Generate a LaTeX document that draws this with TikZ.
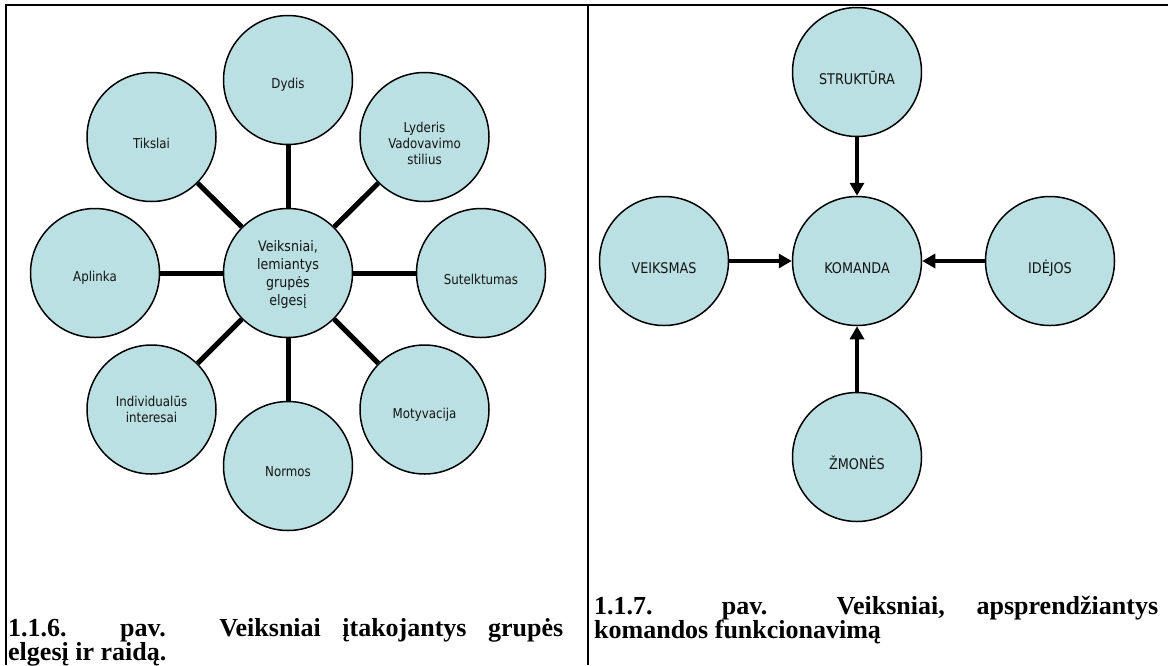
\documentclass[tikz,border=0pt]{standalone}
\usepackage{fontspec}
\setmainfont{Liberation Serif}
\newfontfamily\discfont[FakeStretch=0.87]{DejaVu Sans}
\usetikzlibrary{arrows.meta}
\definecolor{discfill}{RGB}{187,224,227}
\definecolor{disctext}{RGB}{20,20,20}
\begin{document}
\begin{tikzpicture}[x=1pt,y=-1pt,
  disc/.style={circle, draw=black, line width=1.5pt, fill=discfill,
    minimum size=129pt, inner sep=0pt},
  lbl/.style={font=\discfont\fontsize{13.6}{16}\selectfont, text=disctext,
    align=center, inner sep=0pt},
  bigl/.style={lbl, font=\discfont\fontsize{14.5}{18}\selectfont},
  capl/.style={lbl, font=\discfont\fontsize{14.7}{18}\selectfont},
  spoke/.style={line width=5pt},
  feed/.style={line width=4.5pt, -{Triangle[length=13pt,width=14pt]}},
  frame/.style={line width=2.5pt},
  caption/.style={anchor=base west, inner sep=0pt,
    font=\bfseries\fontsize{26}{21.5}\selectfont}]
\useasboundingbox (0,0) rectangle (1168,665);

% panel frame
\draw[frame] (6,665) -- (6,5) -- (1168,5);
\draw[frame] (588,5) -- (588,665);

% ---- left panel: factors of group behaviour ----
\node[disc, label={[bigl, yshift=-1pt]center:{Veiksniai,\\lemiantys\\grupės\\elgesį}}] (core) at (288,273) {};
\node[disc, label={[lbl, yshift=-5pt]center:Dydis}] (dydis) at (288,80) {};
\node[disc, label={[lbl, yshift=-6pt]center:Tikslai}] (tikslai) at (151.5,137) {};
\node[disc, label={[lbl, yshift=-6pt]center:{Lyderis\\Vadovavimo\\stilius}}] (lyderis) at (424.5,137) {};
\node[disc, label={[lbl, yshift=-5pt]center:Aplinka}] (aplinka) at (95,273) {};
\node[disc, label={[lbl, yshift=-6pt]center:Sutelktumas}] (sutelk) at (481,273) {};
\node[disc, label={[lbl]center:{Individualūs\\interesai}}] (indiv) at (151.5,409.5) {};
\node[disc, label={[lbl, yshift=-5pt]center:Motyvacija}] (motyv) at (424.5,409.5) {};
\node[disc, label={[lbl, yshift=-6pt]center:Normos}] (normos) at (288,466) {};

\foreach \n in {dydis,tikslai,lyderis,aplinka,sutelk,indiv,motyv,normos}
  \draw[spoke] (core) -- (\n);

% ---- right panel: team functioning ----
\node[disc, label={[capl, yshift=-7pt]center:KOMANDA}] (komanda) at (857,261) {};
\node[disc, label={[capl, yshift=-6pt]center:STRUKTŪRA}] (struk) at (857,72) {};
\node[disc, label={[capl, yshift=-7pt]center:VEIKSMAS}] (veiksmas) at (664,261) {};
\node[disc, label={[capl, yshift=-7pt]center:IDĖJOS}] (idejos) at (1050,261) {};
\node[disc, label={[capl, yshift=-6pt]center:ŽMONĖS}] (zmones) at (857,457) {};

\foreach \n in {struk,veiksmas,idejos,zmones}
  \draw[feed] (\n) -- (komanda);

% ---- captions ----
\node[caption] (cap1) at (8,636) {\parbox[t]{555pt}{\hyphenpenalty=10000
  1.1.6. pav. Veiksniai įtakojantys grupės\linebreak elgesį ir raidą.}};
\node[caption] (cap2) at (594,614) {\parbox[t]{564pt}{\hyphenpenalty=10000
  1.1.7. pav. Veiksniai, apsprendžiantys\linebreak komandos funkcionavimą}};
\end{tikzpicture}
\end{document}
